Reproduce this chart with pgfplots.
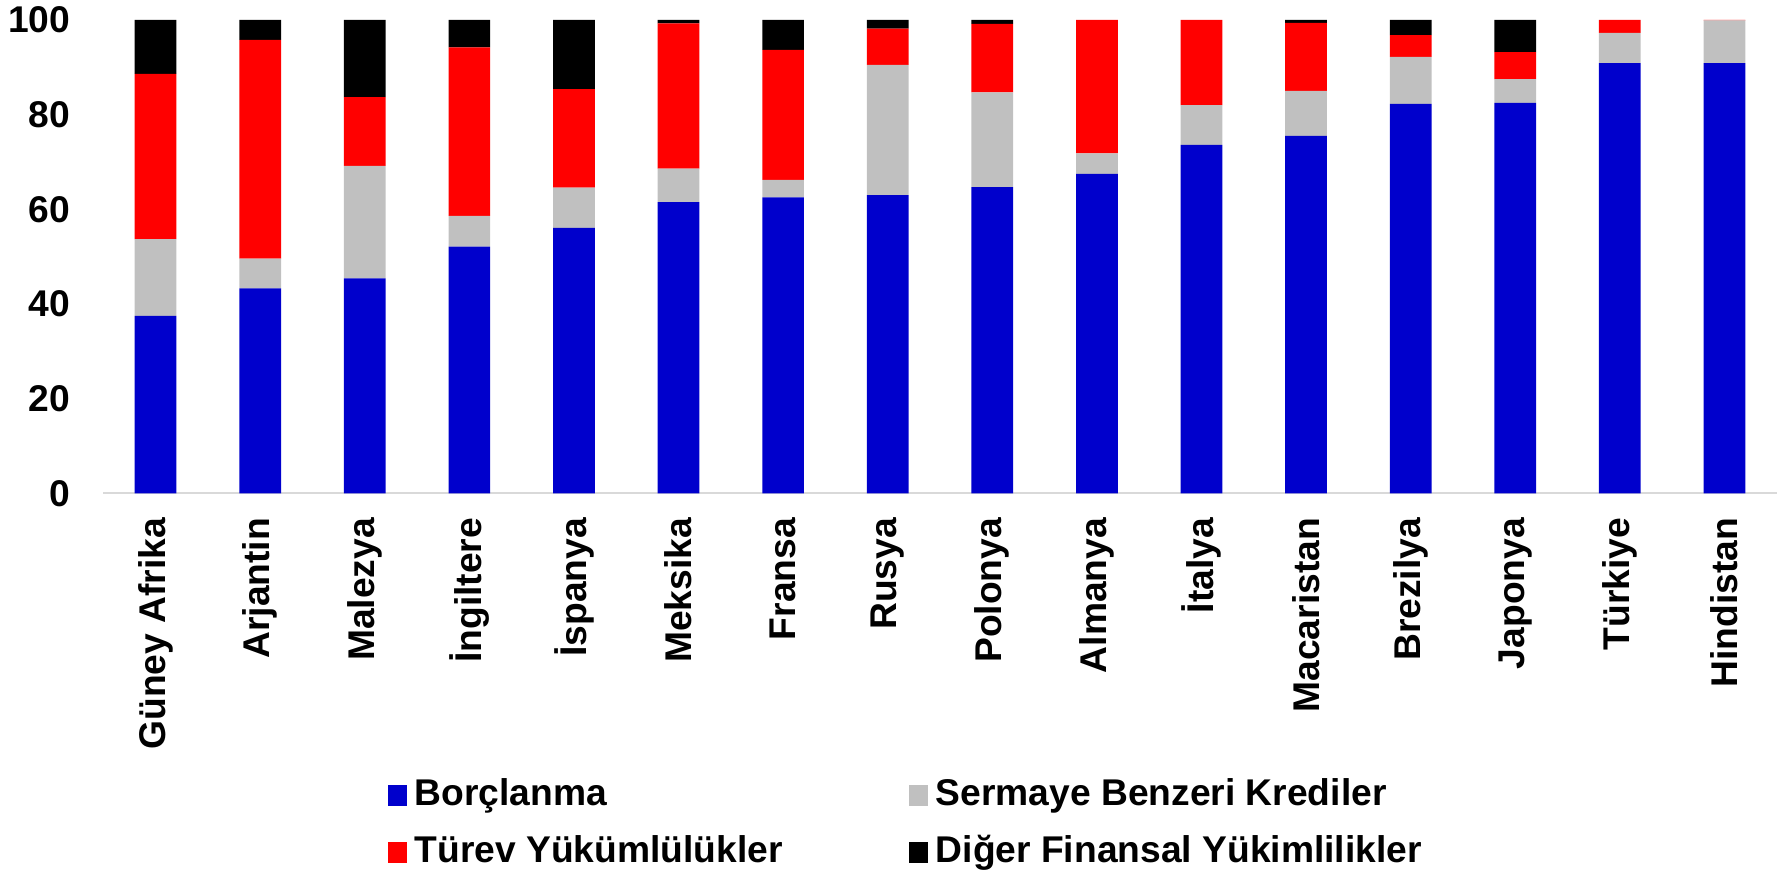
\documentclass[border=0pt]{standalone}
\usepackage{pgfplots}
\pgfplotsset{compat=1.18}
\usepackage{pgfplotstable}
\usepackage{fontspec}
\setmainfont{Liberation Sans}
\definecolor{cblue}{HTML}{0000CC}
\definecolor{cgray}{HTML}{C0C0C0}
\definecolor{cred}{HTML}{FF0000}
\definecolor{caxis}{HTML}{D9D9D9}

\pgfplotstableread{
x blue gray red black
0 37.5 16.2 34.9 11.4
1 43.3 6.3 46.2 4.2
2 45.4 23.8 14.5 16.3
3 52.1 6.5 35.6 5.8
4 56.1 8.5 20.8 14.6
5 61.5 7.1 30.7 0.7
6 62.5 3.7 27.5 6.3
7 63.0 27.5 7.7 1.8
8 64.7 20.0 14.5 0.8
9 67.5 4.3 28.2 0.0
10 73.6 8.4 18.0 0.0
11 75.5 9.5 14.4 0.6
12 82.3 9.9 4.6 3.2
13 82.5 5.0 5.7 6.8
14 90.9 6.4 2.7 0.0
15 90.9 9.0 0.1 0.0
}\data

\begin{document}
\begin{tikzpicture}
\begin{axis}[name=ax, scale only axis, width=836.7pt, height=236.65pt,
  ybar stacked, bar width=20.85pt,
  xmin=-0.5, xmax=15.5, ymin=0, ymax=100,
  xtick={0,...,15},
  xticklabels={Güney Afrika,Arjantin,Malezya,İngiltere,İspanya,Meksika,Fransa,Rusya,Polonya,Almanya,İtalya,Macaristan,Brezilya,Japonya,Türkiye,Hindistan},
  ytick={0,20,...,100},
  major tick length=0pt,
  axis x line*=bottom, axis y line*=left,
  x axis line style={draw=caxis, line width=1pt, -},
  y axis line style={draw=none},
  /pgf/number format/assume math mode=true,
  tick label style={font=\bfseries\fontsize{18.6}{22}\selectfont, inner sep=0pt},
  xticklabel style={rotate=90, anchor=east},
  xticklabel shift=12.2pt,
  yticklabel shift=16.3pt,
  legend columns=2, legend cell align=left,
  legend style={draw=none, fill=none, at={(0.1698,-0.6995)}, anchor=west, inner sep=0pt,
    row sep=10.5pt,
    nodes={inner sep=0pt, text height=14pt, text depth=4pt, font=\bfseries\fontsize{18.6}{22}\selectfont},
    /tikz/every odd column/.style={column sep=4pt},
    /tikz/every even column/.style={column sep=63pt}},
  legend image code/.code={\fill[#1] (0pt,-5pt) rectangle (9.5pt,5.5pt);},
]
\addplot[fill=cblue, draw=none] table[x=x, y=blue] {\data};
\addplot[fill=cgray, draw=none] table[x=x, y=gray] {\data};
\addplot[fill=cred, draw=none] table[x=x, y=red] {\data};
\addplot[fill=black, draw=none] table[x=x, y=black] {\data};
\legend{Borçlanma, Sermaye Benzeri Krediler, Türev Yükümlülükler, Diğer Finansal Yükimlilikler}
\end{axis}
\path ([shift={(-51.65pt,-190.85pt)}]ax.south west) rectangle ([shift={(4.15pt,10pt)}]ax.north east);
\end{tikzpicture}
\end{document}
